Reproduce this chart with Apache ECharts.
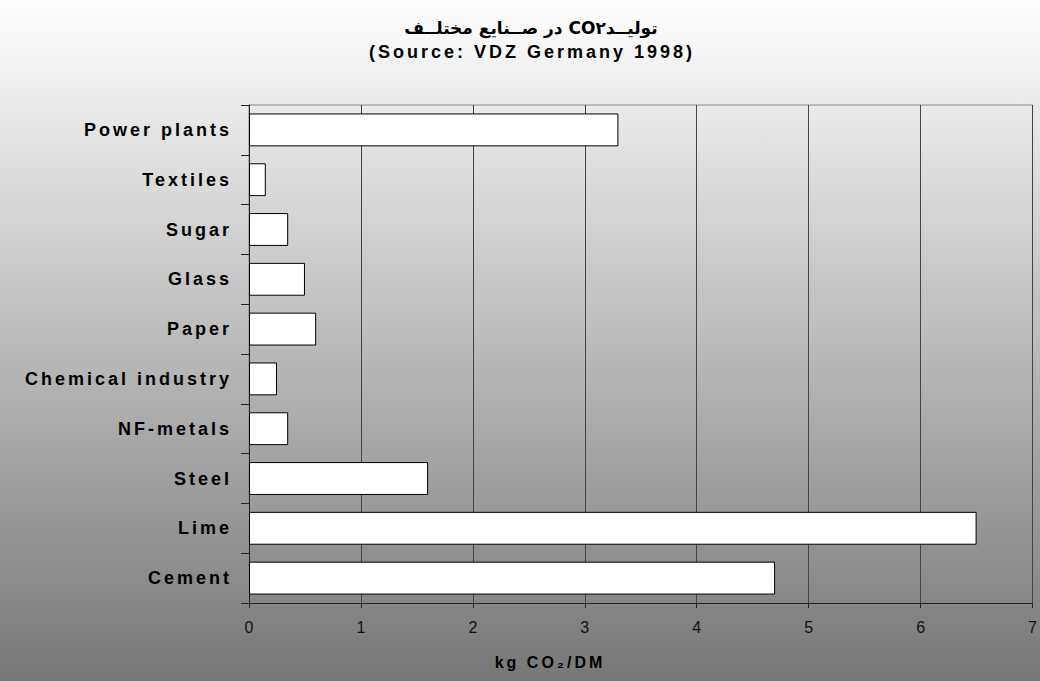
<!DOCTYPE html>
<html>
<head>
<meta charset="utf-8">
<script src="https://cdn.jsdelivr.net/npm/echarts@6/dist/echarts.min.js"></script>
<style>
  html, body { margin: 0; padding: 0; }
  #chart { width: 1040px; height: 681px; }
  /* spaced-out bold labels, like the original Excel export */
  #chart text[style*="Liberation Sans"] { letter-spacing: 3px; }
  #chart text[style*="DejaVu Sans"] { direction: rtl; }
</style>
</head>
<body>
<div id="chart"></div>
<script>
  var categories = ['Power plants', 'Textiles', 'Sugar', 'Glass', 'Paper',
    'Chemical industry', 'NF-metals', 'Steel', 'Lime', 'Cement'];
  var co2Values = [3.3, 0.15, 0.35, 0.5, 0.6, 0.25, 0.35, 1.6, 6.5, 4.7];
  var xTicks = [0, 1, 2, 3, 4, 5, 6, 7];

  var titleFa = 'تولیــد۲\u200fCO در صــنایع مختلــف';
  var titleSource = '(Source: VDZ Germany 1998)';
  var axisTitle = 'kg CO₂/DM';

  var myChart = echarts.init(document.getElementById('chart'), null, { renderer: 'svg' });

  var option = {
    animation: false,
    backgroundColor: new echarts.graphic.LinearGradient(0, 0, 0, 1, [
      { offset: 0, color: '#ffffff' },
      { offset: 1, color: '#777777' }
    ]),
    title: [
      {
        text: titleFa,
        left: 531, top: 19, padding: 0, textAlign: 'center',
        textStyle: { fontFamily: 'DejaVu Sans', fontSize: 17, fontWeight: 'bold', color: '#000' }
      },
      {
        text: titleSource,
        left: 532, top: 43, padding: 0, textAlign: 'center',
        textStyle: { fontFamily: 'Liberation Sans', fontSize: 18, fontWeight: 'bold', color: '#000' }
      },
      {
        text: axisTitle,
        left: 550, top: 654, padding: 0, textAlign: 'center',
        textStyle: { fontFamily: 'Liberation Sans', fontSize: 16, fontWeight: 'bold', color: '#000' }
      }
    ],
    grid: {
      left: 249, right: 7, top: 105, bottom: 78,
      show: true, borderColor: '#888', borderWidth: 1, backgroundColor: 'transparent'
    },
    xAxis: {
      type: 'value',
      min: xTicks[0],
      max: xTicks[xTicks.length - 1],
      interval: 1,
      axisLine: { show: true, lineStyle: { color: '#222', width: 1 } },
      axisTick: { show: true, length: 5, lineStyle: { color: '#222' } },
      splitLine: { show: true, lineStyle: { color: '#444', width: 1 } },
      axisLabel: { margin: 16, fontFamily: 'Arial', fontSize: 16, color: '#111' }
    },
    yAxis: {
      type: 'category',
      inverse: true,
      data: categories,
      axisLine: { show: true, lineStyle: { color: '#222', width: 1 } },
      axisTick: { show: true, length: 8, lineStyle: { color: '#222' } },
      axisLabel: {
        margin: 17, fontFamily: 'Liberation Sans', fontSize: 18,
        fontWeight: 'bold', color: '#000'
      }
    },
    series: [
      {
        type: 'bar',
        data: co2Values,
        barWidth: '66%',
        itemStyle: { color: '#ffffff', borderColor: '#000', borderWidth: 1 }
      }
    ]
  };
  option && myChart.setOption(option);
</script>
</body>
</html>
